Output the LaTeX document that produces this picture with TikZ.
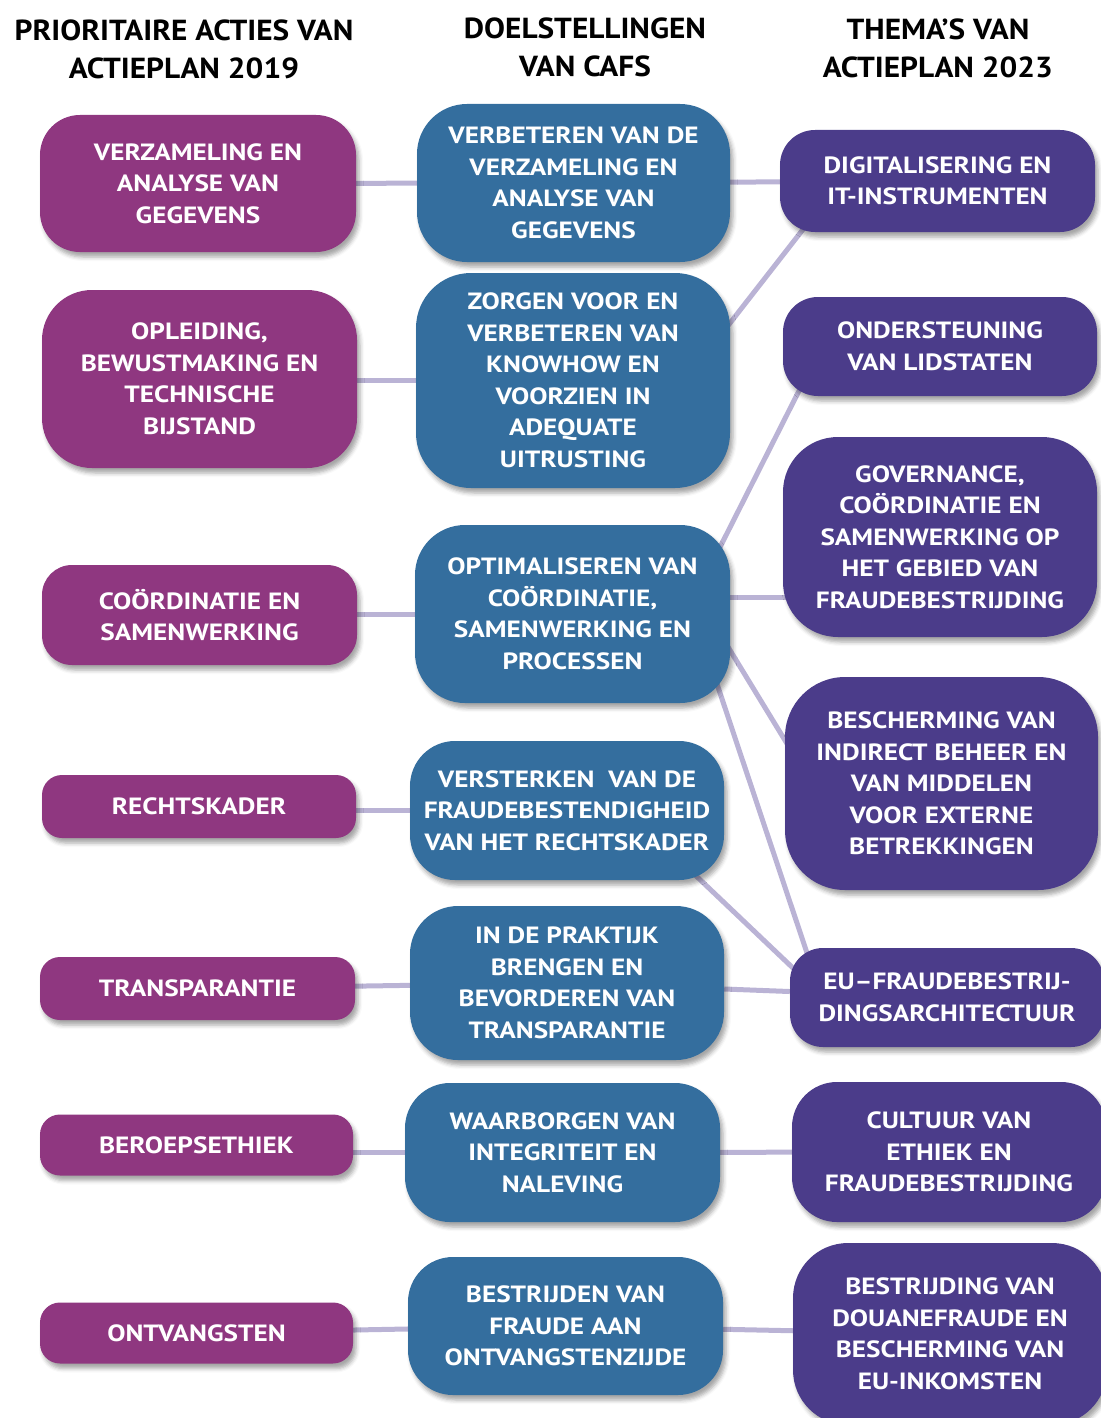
\documentclass[tikz,border=0pt]{standalone}
\usepackage{fontspec}
\setmainfont[FakeStretch=1.16]{PT Sans}
\newfontfamily\headfont[FakeStretch=1.08]{PT Sans}
\usetikzlibrary{shadows.blur,calc,backgrounds}

\definecolor{actpink}{RGB}{143,55,128}
\definecolor{goalblue}{RGB}{52,110,158}
\definecolor{themepurple}{RGB}{75,60,138}
\definecolor{linkcol}{RGB}{186,179,213}

\begin{document}
\begin{tikzpicture}[x=1pt,y=-1pt,
  box/.style={inner sep=0pt, align=center, text=white,
    font=\bfseries\fontsize{23.5}{31.5}\selectfont,
    blur shadow={shadow xshift=3pt, shadow yshift=-5pt, shadow blur radius=4pt, shadow opacity=35}},
  actbox/.style={box, fill=actpink},
  goalbox/.style={box, fill=goalblue},
  themebox/.style={box, fill=themepurple},
  header/.style={align=center, text=black, font=\headfont\bfseries\fontsize{29}{38}\selectfont},
  link/.style={draw=linkcol, line width=5pt}]

\useasboundingbox (0,0) rectangle (1100,1418);

% column headers
\node[header] (h1) at (184,49) {PRIORITAIRE ACTIES VAN\\ACTIEPLAN 2019};
\node[header] (h2) at (585,47) {DOELSTELLINGEN\\VAN CAFS};
\node[header] (h3) at (938,48) {THEMA’S VAN\\ACTIEPLAN 2023};

% priority actions 2019
\node[actbox, minimum width=316pt, minimum height=137pt, rounded corners=40pt] (l1) at (198,183.5) {VERZAMELING EN\\ANALYSE VAN\\GEGEVENS};
\node[actbox, minimum width=315pt, minimum height=178pt, rounded corners=50pt] (l2) at (199.5,379) {OPLEIDING,\\BEWUSTMAKING EN\\TECHNISCHE\\BIJSTAND};
\node[actbox, minimum width=315pt, minimum height=100pt, rounded corners=30pt] (l3) at (199.5,615) {COÖRDINATIE EN\\SAMENWERKING};
\node[actbox, minimum width=314pt, minimum height=63pt, rounded corners=20pt] (l4) at (199,806.5) {RECHTSKADER};
\node[actbox, minimum width=315pt, minimum height=63pt, rounded corners=20pt] (l5) at (197.5,988.5) {TRANSPARANTIE};
\node[actbox, minimum width=313pt, minimum height=61pt, rounded corners=20pt] (l6) at (196.5,1145) {BEROEPSETHIEK};
\node[actbox, minimum width=313pt, minimum height=61pt, rounded corners=20pt] (l7) at (196.5,1333) {ONTVANGSTEN};

% CAFS objectives
\node[goalbox, minimum width=313pt, minimum height=158pt, rounded corners=50pt] (m1) at (573.5,183) {VERBETEREN VAN DE\\VERZAMELING EN\\ANALYSE VAN\\GEGEVENS};
\node[goalbox, minimum width=314pt, minimum height=215pt, rounded corners=55pt] (m2) at (573,380.5) {ZORGEN VOOR EN\\VERBETEREN VAN\\KNOWHOW EN\\VOORZIEN IN\\ADEQUATE\\UITRUSTING};
\node[goalbox, minimum width=315pt, minimum height=178pt, rounded corners=50pt] (m3) at (572.5,614) {OPTIMALISEREN VAN\\COÖRDINATIE,\\SAMENWERKING EN\\PROCESSEN};
\node[goalbox, minimum width=314pt, minimum height=139pt, rounded corners=45pt] (m4) at (567,810.5) {VERSTERKEN~ VAN DE\\FRAUDEBESTENDIGHEID\\VAN HET RECHTSKADER};
\node[goalbox, minimum width=314pt, minimum height=154pt, rounded corners=48pt] (m5) at (567,983) {IN DE PRAKTIJK\\BRENGEN EN\\BEVORDEREN VAN\\TRANSPARANTIE};
\node[goalbox, minimum width=315pt, minimum height=139pt, rounded corners=45pt] (m6) at (562.5,1152.5) {WAARBORGEN VAN\\INTEGRITEIT EN\\NALEVING};
\node[goalbox, minimum width=315pt, minimum height=138pt, rounded corners=45pt] (m7) at (565.5,1326) {BESTRIJDEN VAN\\FRAUDE AAN\\ONTVANGSTENZIJDE};

% themes 2023
\node[themebox, minimum width=315pt, minimum height=102pt, rounded corners=35pt] (r1) at (937.5,181) {DIGITALISERING EN\\IT-INSTRUMENTEN};
\node[themebox, minimum width=314pt, minimum height=99pt, rounded corners=35pt] (r2) at (940,346.5) {ONDERSTEUNING\\VAN LIDSTATEN};
\node[themebox, minimum width=314pt, minimum height=200pt, rounded corners=55pt] (r3) at (940,537) {GOVERNANCE,\\COÖRDINATIE EN\\SAMENWERKING OP\\HET GEBIED VAN\\FRAUDEBESTRIJDING};
\node[themebox, minimum width=313pt, minimum height=213pt, rounded corners=60pt] (r4) at (941.5,783.5) {BESCHERMING VAN\\INDIRECT BEHEER EN\\VAN MIDDELEN\\VOOR EXTERNE\\BETREKKINGEN};
\node[themebox, minimum width=314pt, minimum height=99pt, rounded corners=33pt] (r5) at (947,997.5) {EU–FRAUDEBESTRIJ-\\DINGSARCHITECTUUR};
\node[themebox, minimum width=314pt, minimum height=140pt, rounded corners=45pt] (r6) at (949,1152) {CULTUUR VAN\\ETHIEK EN\\FRAUDEBESTRIJDING};
\node[themebox, minimum width=314pt, minimum height=182pt, rounded corners=55pt] (r7) at (950,1334) {BESTRIJDING VAN\\DOUANEFRAUDE EN\\BESCHERMING VAN\\EU-INKOMSTEN};

% connectors, behind the boxes
\begin{scope}[on background layer]
  % actions to objectives
  \draw[link] (l1) -- (m1);
  \draw[link] (m2.center) -- (m2.center -| l2.center);
  \draw[link] (m3.center) -- (m3.center -| l3.center);
  \draw[link] (m4.center) -- (m4.center -| l4.center);
  \draw[link] (l5) -- (m5);
  \draw[link] (m6.center) -- (m6.center -| l6.center);
  \draw[link] (l7) -- (m7);
  % objectives to themes
  \draw[link] (m1) -- (r1);
  \draw[link] ($(m2.center)+(143,-39.5)$) -- ($(r1.center)+(-122.5,33)$);
  \draw[link] ($(m3.center)+(138.5,-49)$) -- ($(r2.center)+(-133,28.5)$);
  \draw[link] ([yshift=17pt]m3.center) -- ([yshift=17pt]m3.center -| r3.center);
  \draw[link] ($(m3.center)+(147,19)$) -- ($(r4.center)+(-143,-21)$);
  \draw[link] ($(m3.center)+(139.5,55)$) -- ($(r5.center)+(-139,-41.5)$);
  \draw[link] ($(m4.center)+(115.5,52.5)$) -- ($(r5.center)+(-142.5,-18.5)$);
  \draw[link] (m5) -- (r5);
  \draw[link] (m6) -- (r6);
  \draw[link] (m7) -- (r7);
\end{scope}
\end{tikzpicture}
\end{document}
